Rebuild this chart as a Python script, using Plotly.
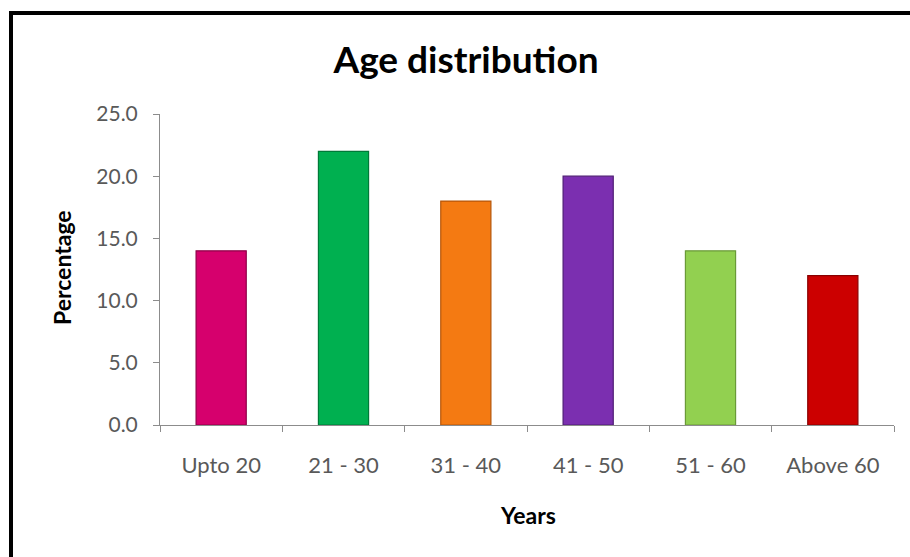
import plotly.graph_objects as go

categories = ["Upto 20", "21 - 30", "31 - 40", "41 - 50", "51 - 60", "Above 60"]
percentages = [14.0, 22.0, 18.0, 20.0, 14.0, 12.0]
bar_colors = ["#D6006D", "#00B050", "#F47A12", "#7B2FB0", "#92D050", "#CC0000"]
edge_colors = ["#8E0048", "#007A38", "#B5560A", "#4F1D75", "#6A9A38", "#8A0000"]
y_ticks = [0, 5, 10, 15, 20, 25]

W, H = 910, 557
L, R, T, B = 160, 16, 114, 132

fig = go.Figure(go.Bar(
    x=categories, y=percentages, width=0.41,
    marker=dict(color=bar_colors, line=dict(color=edge_colors, width=1.2)),
))

pw = W - L - R
ph = H - T - B
def px_x(p):
    return (p - L) / pw
def px_y(p):
    return (H - B - p) / ph

font = "Lato, Open Sans, sans-serif"
fig.update_layout(
    width=W, height=H,
    margin=dict(l=L, r=R, t=T, b=B),
    paper_bgcolor="white", plot_bgcolor="white",
    showlegend=False,
    title=dict(text="<b>Age distribution</b>", x=466 / W, xanchor="center",
               y=1 - 60 / H, yanchor="middle", xref="container", yref="container",
               font=dict(family=font, size=37, color="#000000")),
    xaxis=dict(showline=True, linecolor="#8C8C8C", linewidth=1,
               ticks="outside", tickson="boundaries", ticklen=6, tickcolor="#8C8C8C",
               tickfont=dict(family=font, size=22, color="#595959"),
               ticklabelstandoff=21, showgrid=False, fixedrange=True),
    yaxis=dict(range=[0, 25], tickvals=y_ticks, tickformat=".1f",
               showline=True, linecolor="#8C8C8C", linewidth=1,
               ticks="outside", ticklen=6, tickcolor="#8C8C8C",
               tickfont=dict(family=font, size=21, color="#595959"),
               ticklabelstandoff=11, showgrid=False, zeroline=False, fixedrange=True),
    annotations=[
        dict(text="<b>Percentage</b>", textangle=-90, xref="paper", yref="paper",
             x=px_x(62), y=px_y(268), xanchor="center", yanchor="middle", showarrow=False,
             font=dict(family=font, size=23, color="#000000")),
        dict(text="<b>Years</b>", xref="paper", yref="paper",
             x=px_x(528), y=px_y(515), xanchor="center", yanchor="middle", showarrow=False,
             font=dict(family=font, size=23, color="#000000")),
    ],
    shapes=[
        dict(type="line", xref="paper", yref="paper", x0=px_x(11), x1=px_x(11),
             y0=px_y(12), y1=px_y(H + 5), line=dict(color="#000000", width=4)),
        dict(type="line", xref="paper", yref="paper", x0=px_x(9), x1=px_x(W + 5),
             y0=px_y(13), y1=px_y(13), line=dict(color="#000000", width=4)),
    ],
)

fig.write_html("out.html")
